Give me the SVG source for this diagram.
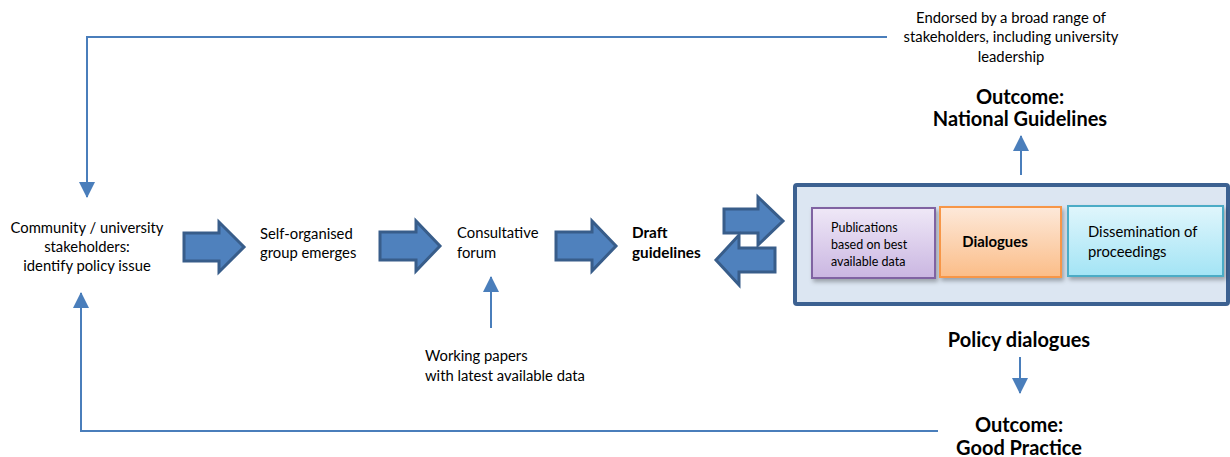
<svg xmlns="http://www.w3.org/2000/svg" width="1230" height="457" viewBox="0 0 1230 457">
<defs>
<style>
text{font-family:Lato,"Liberation Sans",sans-serif;fill:#000;}
.t{font-size:14.8px;}
.s{font-size:12.5px;}
.b{font-weight:bold;}
.big{font-size:20px;font-weight:bold;}
.c{text-anchor:middle;}
.blk{fill:#4F81BD;stroke:#385D8A;stroke-width:3;stroke-linejoin:miter;}
.ln{fill:none;stroke:#4A7EBB;stroke-width:2;}
</style>
<marker id="ah" markerUnits="userSpaceOnUse" markerWidth="16" markerHeight="16" viewBox="0 0 16 16" refX="15" refY="8" orient="auto">
<path d="M0,0 L16,8 L0,16 Z" fill="#4A7EBB"/>
</marker>
<linearGradient id="gp" x1="0" y1="0" x2="0" y2="1"><stop offset="0" stop-color="#EFE8F7"/><stop offset="1" stop-color="#CAB6E1"/></linearGradient>
<linearGradient id="go" x1="0" y1="0" x2="0" y2="1"><stop offset="0" stop-color="#FDE9DA"/><stop offset="1" stop-color="#FBBD88"/></linearGradient>
<linearGradient id="gc" x1="0" y1="0" x2="0" y2="1"><stop offset="0" stop-color="#E0F6FC"/><stop offset="1" stop-color="#A3E4F5"/></linearGradient>
<filter id="sh" x="-10%" y="-10%" width="130%" height="140%"><feDropShadow dx="2" dy="3" stdDeviation="2" flood-color="#000" flood-opacity="0.3"/></filter>
</defs>

<g id="connectors">
<path class="ln" d="M887,37 H87 V197" marker-end="url(#ah)"/>
<path class="ln" d="M938,431 H81 V293" marker-end="url(#ah)"/>
<path class="ln" d="M491,328 V277" marker-end="url(#ah)"/>
<path class="ln" d="M1021,175 V136" marker-end="url(#ah)"/>
<path class="ln" d="M1020,357 V393" marker-end="url(#ah)"/>
<path class="blk" d="M184,233 H219 V222 L244,247 L219,272 V261 H184 Z"/>
<path class="blk" d="M380,232 H416 V221 L440,246 L416,271 V260 H380 Z"/>
<path class="blk" d="M556,232 H592 V221 L616,246 L592,271 V260 H556 Z"/>
<path class="blk" d="M724,209 H758 V197 L783,221 L758,245 V233 H724 Z"/>
<path class="blk" d="M775,248 H739 V235 L716,260 L739,285 V272 H775 Z"/>
</g>

<g id="community">
<text class="t c" x="87" y="233">Community / university</text>
<text class="t c" x="87" y="252">stakeholders:</text>
<text class="t c" x="87" y="271">identify policy issue</text>
</g>
<g id="selforganised">
<text class="t" x="260" y="239">Self-organised</text>
<text class="t" x="260" y="258">group emerges</text>
</g>
<g id="consultative">
<text class="t" x="457" y="238">Consultative</text>
<text class="t" x="457" y="258">forum</text>
</g>
<g id="draft">
<text class="b" style="font-size:15.3px" x="632" y="238">Draft</text>
<text class="b" style="font-size:15.3px" x="632" y="258">guidelines</text>
</g>
<g id="working">
<text class="t" x="425" y="361">Working papers</text>
<text class="t" x="425" y="381">with latest available data</text>
</g>
<g id="endorsed">
<text class="t c" x="1011" y="23">Endorsed by a broad range of</text>
<text class="t c" x="1011" y="42">stakeholders, including university</text>
<text class="t c" x="1011" y="62">leadership</text>
</g>
<g id="national">
<text class="big c" x="1020" y="104">Outcome:</text>
<text class="big c" x="1020" y="126">National Guidelines</text>
</g>
<g id="policy">
<rect x="795" y="185" width="433" height="119" fill="#DCE6F2" stroke="#3C6191" stroke-width="4" rx="2"/>
<text class="big c" x="1019" y="347">Policy dialogues</text>
</g>
<g id="publications">
<rect x="812" y="208" width="123" height="70" fill="url(#gp)" stroke="#8064A2" stroke-width="2" filter="url(#sh)"/>
<text class="s" x="831" y="232">Publications</text>
<text class="s" x="831" y="249">based on best</text>
<text class="s" x="831" y="266">available data</text>
</g>
<g id="dialogues">
<rect x="940" y="207" width="121" height="70" fill="url(#go)" stroke="#F79646" stroke-width="2" filter="url(#sh)"/>
<text class="b c" style="font-size:14.9px" x="995" y="247">Dialogues</text>
</g>
<g id="dissemination">
<rect x="1068" y="206" width="155" height="70" fill="url(#gc)" stroke="#4BACC6" stroke-width="2" filter="url(#sh)"/>
<text class="t" x="1088" y="237">Dissemination of</text>
<text class="t" x="1088" y="257">proceedings</text>
</g>
<g id="goodpractice">
<text class="big c" x="1019" y="432">Outcome:</text>
<text class="big c" x="1019" y="455">Good Practice</text>
</g>
</svg>
